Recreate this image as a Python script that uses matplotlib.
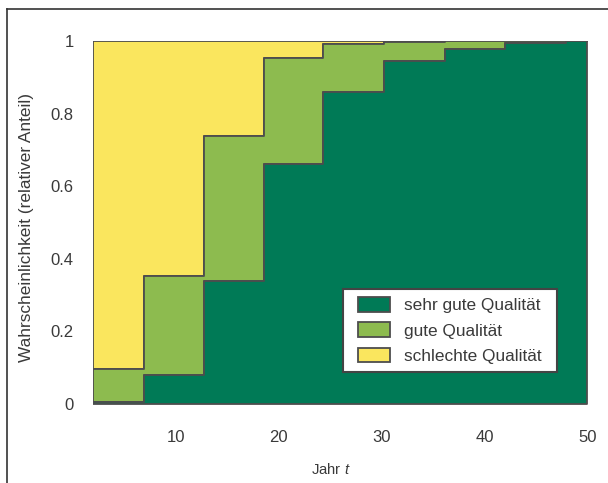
import matplotlib
matplotlib.use("Agg")
import matplotlib.pyplot as plt
from matplotlib.lines import Line2D
from matplotlib.patches import Patch, Rectangle
import numpy as np

plt.rcParams['font.family'] = ['Liberation Sans', 'DejaVu Sans']
plt.rcParams['mathtext.fontset'] = 'custom'
plt.rcParams['mathtext.rm'] = 'Liberation Sans'
plt.rcParams['mathtext.it'] = 'Liberation Sans:italic'

# Data: step edges (years) and probabilities per interval
x_edges = [2.0, 6.9, 12.8, 18.6, 24.3, 30.2, 36.2, 42.0, 47.9, 50.0]
p_sehr_gut = [0.006, 0.08, 0.34, 0.66, 0.86, 0.945, 0.977, 0.994, 1.0]
p_gut = [0.09, 0.273, 0.398, 0.292, 0.133, 0.053, 0.023, 0.006, 0.0]
p_schlecht = [1 - a - b for a, b in zip(p_sehr_gut, p_gut)]

labels = ["sehr gute Qualität", "gute Qualität", "schlechte Qualität"]
colors = ["#007A56", "#8DBB4F", "#FAE65E"]
yticks = [0, 0.2, 0.4, 0.6, 0.8, 1]
ytick_labels = ["0", "0.2", "0.4", "0.6", "0.8", "1"]
xticks = [10, 20, 30, 40, 50]

W, H = 608, 483
fig = plt.figure(figsize=(W / 100, H / 100), dpi=100)
ax = fig.add_axes([93.3 / W, 1 - 404 / H, 494 / W, 363 / H])

x = np.array(x_edges)
def ext(v):
    v = list(v)
    return np.array(v + [v[-1]])

s1 = ext(p_sehr_gut)
s2 = s1 + ext(p_gut)
s3 = s2 + ext(p_schlecht)
edge = "#4d4d4d"
ax.fill_between(x, s2, s3, step='post', facecolor=colors[2], edgecolor=edge, linewidth=1.3)
ax.fill_between(x, s1, s2, step='post', facecolor=colors[1], edgecolor=edge, linewidth=1.3)
ax.fill_between(x, 0, s1, step='post', facecolor=colors[0], edgecolor=edge, linewidth=1.3)

ax.set_xlim(2, 50)
ax.set_ylim(0, 1)
for sp in ax.spines.values():
    sp.set_visible(False)
ax.set_xticks(xticks)
ax.set_xticklabels([str(t) for t in xticks])
ax.set_yticks(yticks)
ax.set_yticklabels(ytick_labels)
tc = "#3a3a3a"
ax.tick_params(axis='both', length=0, labelsize=12, labelcolor=tc)
ax.tick_params(axis='y', pad=14)
ax.tick_params(axis='x', pad=18.5)

fig.text(27 / W, 1 - 228 / H, "Wahrscheinlichkeit (relativer Anteil)", rotation=90,
         ha='center', va='center', fontsize=12.4, color=tc)
fig.text(331 / W, 1 - 470 / H, r"Jahr $\mathit{t}$", ha='center', va='center',
         fontsize=10.7, color=tc)

handles = [Patch(facecolor=c, edgecolor=edge, linewidth=1.3) for c in colors]
leg = ax.legend(handles, labels, loc='lower right', bbox_to_anchor=(0.925, 0.088),
                fontsize=12.4, frameon=False, handlelength=1.85,
                handleheight=0.92, handletextpad=0.84, borderpad=0.48,
                labelspacing=0.52, borderaxespad=0)
for t in leg.get_texts():
    t.set_color(tc)

fig.canvas.draw()
bb = leg.get_window_extent()
extra = 7
x0 = (bb.x0 - extra) / W
x1 = (bb.x1 + extra) / W
y0 = bb.y0 / H
y1 = bb.y1 / H
frame = Rectangle((x0, y0), x1 - x0, y1 - y0, transform=fig.transFigure,
                  facecolor="white", edgecolor="#444444", linewidth=1.5, zorder=4)
fig.add_artist(frame)
leg.set_zorder(5)
fig.add_artist(leg)

# outer frame (open at right/bottom as in the reference)
fig.add_artist(Line2D([7 / W, 7 / W], [0, 1 - 9 / H], transform=fig.transFigure,
                      color="#333333", linewidth=1.2))
fig.add_artist(Line2D([7 / W, 1], [1 - 9 / H, 1 - 9 / H], transform=fig.transFigure,
                      color="#333333", linewidth=1.2))

fig.savefig("out.png", dpi=100)
